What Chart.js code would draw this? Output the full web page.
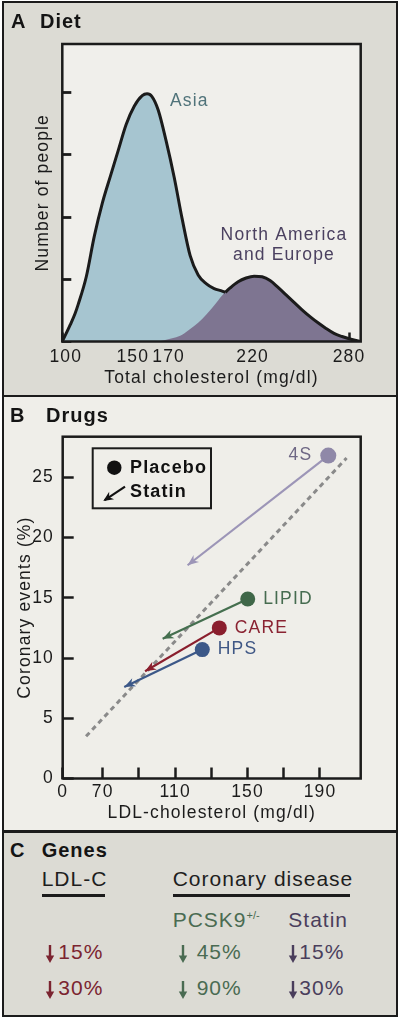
<!DOCTYPE html>
<html><head><meta charset="utf-8">
<script src="https://cdn.jsdelivr.net/npm/chart.js"></script>
<style>
html,body{margin:0;padding:0;background:#fff;}
body{width:400px;height:1018px;position:relative;overflow:hidden;font-family:"Liberation Sans",Arial,Helvetica,sans-serif;}
.a{position:absolute;white-space:nowrap;line-height:1;}
.bg{position:absolute;left:2px;width:395.5px;}
canvas{position:absolute;left:0;}
.t{font-weight:bold;font-size:20px;letter-spacing:1px;color:#141414;z-index:5;}
.c{font-size:21px;letter-spacing:1px;z-index:5;}
.line{position:absolute;background:#1b1b1b;z-index:6;}
svg.arr{position:absolute;z-index:5;}
</style>
</head>
<body>
<div class="bg" style="top:1px;height:395px;background:#dcdbd4"></div>
<div class="bg" style="top:396px;height:435px;background:#efeee9"></div>
<div class="bg" style="top:831px;height:186px;background:#dcdbd4"></div>

<canvas id="cA" width="400" height="396" style="top:0"></canvas>
<canvas id="cB" width="400" height="434" style="top:397px"></canvas>

<div class="line" style="left:2px;top:394.8px;width:395.5px;height:2.5px"></div>
<div class="line" style="left:2px;top:830.2px;width:395.5px;height:2.5px"></div>
<div style="position:absolute;left:2px;top:1px;width:395.5px;height:1016px;box-sizing:border-box;border:2.5px solid #1b1b1b;z-index:7"></div>

<div class="a t" style="left:11px;top:11.4px">A</div>
<div class="a t" style="left:40px;top:11.4px">Diet</div>
<div class="a t" style="left:10px;top:405.4px">B</div>
<div class="a t" style="left:46px;top:405.4px">Drugs</div>
<div class="a t" style="left:10px;top:840.4px">C</div>
<div class="a t" style="left:41.7px;top:840.4px">Genes</div>

<div id="panelC"></div>

<script>
// ---------- Panel A data ----------
const asiaX = [100,105,108,110,115,120,125,130,135,140,145,150,153,156,160,165,170,175,180,185,190,195,200,202,205,210,220,230,240,250];
const asiaY = [0,0.27,0.45,0.6,1.04,1.69,2.22,2.65,3.07,3.49,3.78,3.95,3.98,3.94,3.72,3.22,2.64,1.97,1.38,1.07,0.93,0.85,0.81,0.79,0.74,0.62,0.36,0.15,0.05,0];
const naX = [160,165,170,175,180,185,190,195,200,202,205,210,215,220,225,230,235,240,245,250,255,260,265,270,275,280,286.7];
const naY = [0,0.03,0.06,0.11,0.2,0.3,0.43,0.58,0.74,0.79,0.86,0.96,1.02,1.05,1.04,0.98,0.87,0.75,0.63,0.51,0.4,0.3,0.21,0.13,0.08,0.04,0];
const xTicksA = [100,150,170,220,280];
const yTicksA = [0,1,2,3,4];
const crossX = 202;

// ---------- Panel B data ----------
const trialNames = ['4S','LIPID','CARE','HPS'];
const placeboLDL = [194.6,150.1,134.4,125.0];
const placeboEvents = [26.8,14.9,12.5,10.7];
const statinLDL = [116.9,103.1,93.4,81.9];
const statinEvents = [17.7,11.6,8.9,7.6];
const trendLDL = [60.8,204.7];
const trendEvents = [3.5,26.6];
const xTicksB = [70,90,110,130,150,170,190];
const xLabelsB = [70,110,150,190];
const xBreakLabel = '0';
const yTicksB = [0,5,10,15,20,25];

// ---------- Panel C data ----------
const cHeaders = ['LDL-C','Coronary disease'];
const cSubHeaders = ['PCSK9','Statin'];
const ldlDrop = ['15%','30%'];
const pcsk9Drop = ['45%','90%'];
const statinDrop = ['15%','30%'];

// ---------- styles ----------
const INK = '#1b1b1b';
const FONT = '"Liberation Sans", Arial, sans-serif';
const FS = 17.5;
const LS = '1.15px';
const labelShiftA = [3.5, -9.5, -5.5, -1.5, -1];
const trialColors = ['#8f88a8','#3f6748','#8a1e2d','#3c5888'];
const trialLineColors = ['#9c95b7','#456f4f','#8a1e2d','#3c5888'];
const trialTextColors = ['#6e6784','#466c50','#8a2332','#3f5785'];
const trialAlign = ['right','left','left','left'];
const TRANSP = 'rgba(0,0,0,0)';

const spacing = {id:'spacing', beforeDraw(chart){ chart.ctx.letterSpacing = LS; }};
const plotFrame = {
  id:'plotFrame',
  beforeDraw(chart, args, o){
    const {ctx, chartArea:a} = chart;
    ctx.save(); ctx.fillStyle = o.color;
    ctx.fillRect(a.left, a.top, a.right-a.left, a.bottom-a.top); ctx.restore();
  },
  afterDraw(chart, args, o){
    const {ctx, chartArea:a} = chart;
    ctx.save(); ctx.strokeStyle = INK; ctx.lineWidth = o.width;
    ctx.strokeRect(a.left, a.top, a.right-a.left, a.bottom-a.top); ctx.restore();
  }
};

function txt(ctx, s, x, y, color, align, size, weight){
  ctx.save();
  ctx.font = (weight||'normal') + ' ' + (size||FS) + 'px ' + FONT;
  ctx.fillStyle = color; ctx.textAlign = align || 'left'; ctx.textBaseline = 'middle';
  ctx.letterSpacing = LS;
  ctx.fillText(s, x, y); ctx.restore();
}

// ---------- Chart A ----------
const aLabels = {
  id:'aLabels',
  afterDatasetsDraw(chart){
    const {ctx, chartArea:a} = chart;
    txt(ctx, 'Asia', a.left+107.7, a.top+57, '#50737a', 'left');
    txt(ctx, 'North America', a.left+221.7, a.top+191, '#4b4160', 'center');
    txt(ctx, 'and Europe', a.left+221.7, a.top+211, '#4b4160', 'center');
  },
  afterDraw(chart){
    const x = chart.scales.x;
    x.ticks.forEach((t, i) => {
      txt(chart.ctx, String(t.value), x.getPixelForValue(t.value) + labelShiftA[i], x.top + 16, INK, 'center');
    });
  }
};
const fontA = {family: FONT, size: FS};
const ptsAsia = asiaX.map((x,i)=>({x, y:asiaY[i]}));
const ptsNA = naX.map((x,i)=>({x, y:naY[i]}));
const curve = {pointRadius:0, cubicInterpolationMode:'monotone'};
new Chart(document.getElementById('cA'), {
  type:'line',
  data:{datasets:[
    Object.assign({label:'North America and Europe outline', data: ptsNA, order:0, fill:false, borderWidth:3,
      segment:{borderColor: c => c.p1.parsed.x <= crossX ? TRANSP : INK}}, curve),
    Object.assign({label:'Asia outline', data: ptsAsia, order:1, fill:false, borderWidth:3,
      segment:{borderColor: c => c.p0.parsed.x >= crossX ? TRANSP : INK}}, curve),
    Object.assign({label:'North America and Europe', data: ptsNA, order:2, fill:'origin',
      backgroundColor:'#7e7591', borderWidth:0, borderColor:TRANSP}, curve),
    Object.assign({label:'Asia', data: ptsAsia, order:3, fill:'origin',
      backgroundColor:'#a6c5d0', borderWidth:0, borderColor:TRANSP}, curve)
  ]},
  options:{
    responsive:false, animation:false, events:[],
    layout:{padding:{left:0, right:39.3, top:44, bottom:0}},
    plugins:{legend:{display:false}, tooltip:{enabled:false}, plotFrame:{color:'#f0efeb', width:2.5}},
    scales:{
      x:{type:'linear', min:100, max:286.7, z:1,
        afterBuildTicks: s => { s.ticks = xTicksA.map(v=>({value:v})); },
        afterFit: s => { s.height = 54.5; },
        ticks:{display:false},
        grid:{drawOnChartArea:false, tickLength:-9, tickWidth:2.5, color:INK},
        border:{display:false},
        title:{display:true, text:'Total cholesterol (mg/dl)', color:INK, font:fontA, padding:{bottom:7.3}}},
      y:{type:'linear', min:0, max:4.78, z:1,
        afterBuildTicks: s => { s.ticks = yTicksA.map(v=>({value:v})); },
        afterFit: s => { s.width = 62.3; },
        ticks:{display:false},
        grid:{drawOnChartArea:false, tickLength:-9, tickWidth:2.8, color:INK},
        border:{display:false},
        title:{display:true, text:'Number of people', color:INK, font:fontA, padding:{top:32.3}}}
    }
  },
  plugins:[spacing, plotFrame, aLabels]
});

// ---------- Chart B ----------
function head(ctx, x, y, ang, color, len, hw){
  ctx.save(); ctx.translate(x,y); ctx.rotate(ang); ctx.fillStyle = color;
  ctx.beginPath(); ctx.moveTo(0,0); ctx.lineTo(-len,-hw); ctx.lineTo(-len*0.7,0); ctx.lineTo(-len,hw); ctx.closePath(); ctx.fill();
  ctx.restore();
}
const bOverlay = {
  id:'bOverlay',
  afterDatasetsDraw(chart){
    const {ctx, chartArea:a} = chart;
    trialNames.forEach((name,i)=>{
      const m = chart.getDatasetMeta(i);
      const p0 = m.data[0], p1 = m.data[1];
      head(ctx, p1.x, p1.y, Math.atan2(p1.y-p0.y, p1.x-p0.x), trialLineColors[i], 11, 4.5);
      const dx = trialAlign[i] === 'right' ? -16 : 15.5;
      txt(ctx, name, p0.x+dx, p0.y, trialTextColors[i], trialAlign[i]);
    });
    // legend
    const lx = a.left+30, ly = a.top+11.6;
    ctx.save(); ctx.strokeStyle = INK; ctx.lineWidth = 2; ctx.strokeRect(lx, ly, 118.3, 60);
    ctx.fillStyle = '#111'; ctx.beginPath(); ctx.arc(lx+21.6, ly+19.4, 7.2, 0, Math.PI*2); ctx.fill();
    ctx.strokeStyle = '#111'; ctx.lineWidth = 2.2; ctx.beginPath();
    ctx.moveTo(lx+32.3, ly+38.4); ctx.lineTo(lx+12, ly+51.8); ctx.stroke();
    head(ctx, lx+10.6, ly+52.7, Math.atan2(14.3, -21.7), '#111', 10, 4.5);
    ctx.restore();
    txt(ctx, 'Placebo', lx+37.3, ly+19.4, '#111', 'left', 18, 'bold');
    txt(ctx, 'Statin', lx+37.3, ly+43.4, '#111', 'left', 18, 'bold');
  }
};
const fontB = {family: FONT, size: FS};
const dsB = trialNames.map((name,i)=>({
  label:name, type:'scatter', showLine:true,
  data:[{x:placeboLDL[i], y:placeboEvents[i]}, {x:statinLDL[i], y:statinEvents[i]}],
  borderColor: trialLineColors[i], borderWidth:2.2,
  pointRadius:[i===0?8:7.5, 0], pointBackgroundColor: trialColors[i], pointBorderWidth:0,
  order: i
}));
dsB.push({label:'trend', type:'scatter', showLine:true,
  data: trendLDL.map((x,i)=>({x, y:trendEvents[i]})),
  borderColor:'#8a8a8a', borderWidth:3, borderDash:[5,4], pointRadius:0, order:10});

const xMinB = 47.9;
new Chart(document.getElementById('cB'), {
  type:'scatter',
  data:{datasets: dsB},
  options:{
    responsive:false, animation:false, events:[],
    layout:{padding:{left:0, right:39.3, top:39.7, bottom:0}},
    plugins:{legend:{display:false}, tooltip:{enabled:false}, plotFrame:{color:'#efeee9', width:2.5}},
    scales:{
      x:{type:'linear', min:xMinB, max:212.5, z:1,
        afterBuildTicks: s => { s.ticks = [xMinB, ...xTicksB].map(v=>({value:v})); },
        afterFit: s => { s.height = 434-381.5; },
        ticks:{autoSkip:false, maxRotation:0, padding:14.3, color:INK, font:fontB,
          callback: v => v === xMinB ? xBreakLabel : (xLabelsB.includes(v) ? String(v) : '')},
        grid:{drawOnChartArea:false, tickLength:-11, tickWidth:2.5, color:INK},
        border:{display:false},
        title:{display:true, text:'LDL-cholesterol (mg/dl)', color:INK, font:fontB, padding:{bottom:7.3}}},
      y:{type:'linear', min:0, max:28.37, z:1,
        afterBuildTicks: s => { s.ticks = yTicksB.map(v=>({value:v})); },
        afterFit: s => { s.width = 62.7; },
        ticks:{padding:19.7, color:INK, font:fontB, callback: v => String(v)},
        grid:{drawOnChartArea:false, tickLength:-11, tickWidth:2.5, color:INK},
        border:{display:false},
        title:{display:true, text:'Coronary events (%)', color:INK, font:fontB, padding:{top:14.3}}}
    }
  },
  plugins:[spacing, plotFrame, bOverlay]
});

// ---------- Panel C (text) ----------
(function(){
  const root = document.getElementById('panelC');
  const add = (html, left, top, color) => {
    const d = document.createElement('div');
    d.className = 'a c'; d.innerHTML = html;
    d.style.left = left+'px'; d.style.top = top+'px'; d.style.color = color;
    root.appendChild(d);
  };
  const arrow = (cx, top, color) => {
    const s = document.createElementNS('http://www.w3.org/2000/svg','svg');
    s.setAttribute('class','arr'); s.setAttribute('width','10'); s.setAttribute('height','18');
    s.setAttribute('viewBox','0 0 10 18');
    s.style.left = (cx-5)+'px'; s.style.top = top+'px';
    s.innerHTML = '<path d="M3.8 0H6.2V10.5H9.2L5 18L0.8 10.5H3.8Z" fill="'+color+'"/>';
    root.appendChild(s);
  };
  const red = '#7b2430', green = '#4a6b52', purple = '#4a3e5c';
  add(cHeaders[0], 41.7, 868.2, '#1e1e1e');
  add(cHeaders[1], 172.7, 868.2, '#1e1e1e');
  const u1 = document.createElement('div'); u1.className='line';
  Object.assign(u1.style, {left:'41.7px', top:'894.3px', width:'63.3px', height:'3px'}); root.appendChild(u1);
  const u2 = document.createElement('div'); u2.className='line';
  Object.assign(u2.style, {left:'172.7px', top:'894.3px', width:'177.3px', height:'3px'}); root.appendChild(u2);
  add(cSubHeaders[0] + '<sup style="font-size:11px;vertical-align:8px;letter-spacing:0">+/-</sup>', 172.7, 908.9, green);
  add(cSubHeaders[1], 288.3, 908.9, purple);
  const rows = [940.5, 976.5];
  rows.forEach((top, r) => {
    arrow(50, top+4.5, red);
    add(ldlDrop[r], 58.3, top, red);
    arrow(182.7, top+4.5, green);
    add(pcsk9Drop[r], 196.7, top, green);
    arrow(292.7, top+4.5, purple);
    add(statinDrop[r], 299.3, top, purple);
  });
})();
</script>
</body></html>
